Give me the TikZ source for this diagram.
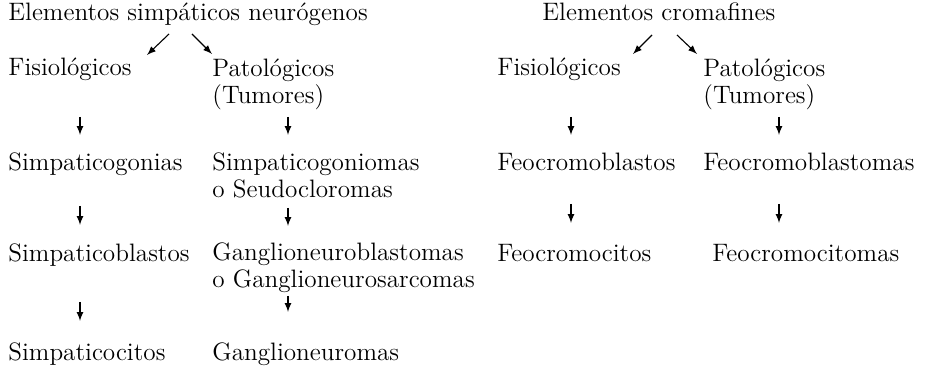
\documentclass[tikz,border=0pt]{standalone}
\usepackage{fontspec}
\usepackage{tikz}
\usetikzlibrary{calc}
\tikzset{>=latex, % Use LaTeX arrow tips
  arr/.style={->, line width=0.55pt},
  entry/.style={anchor=base west, inner sep=0pt, align=left},
  scheme/.style={
    x=0.5pt,
    y=-0.5pt,
    font={\fontsize{12.6}{13.5}\selectfont},
  },
}

\begin{document}
\begin{tikzpicture}[scheme]

    \useasboundingbox (0,0) rectangle (928,369);

    % neurogenic side (two-line entries sit on their last line)
    \node [entry] at (8,21) (neuro) {Elementos simpáticos neurógenos};
    \node [entry] at (8,76) (fisio neuro) {Fisiológicos};
    \node [entry] at (212,104) (pato neuro) {Patológicos\\(Tumores)};
    \node [entry] at (8,171) (gonias) {Simpaticogonias};
    \node [entry] at (212,198) (goniomas) {Simpaticogoniomas\\o Seudocloromas};
    \node [entry] at (8,262) (blastos) {Simpaticoblastos};
    \node [entry] at (212,288) (gangblastomas)
    {Ganglioneuroblastomas\\o Ganglioneurosarcomas};
    \node [entry] at (8,360) (citos) {Simpaticocitos};
    \node [entry] at (212,360) (gangliomas) {Ganglioneuromas};

    \draw [arr] (neuro.base west) ++(161,13) -- ++(-22,21);
    \draw [arr] (neuro.base west) ++(184,13) -- ++(20,20);
    \draw [arr] (fisio neuro.base west) ++(72,41) -- ++(0,18);
    \draw [arr] (gonias.base west) ++(72,35) -- ++(0,19);
    \draw [arr] (blastos.base west) ++(72,40) -- ++(0,19);
    \draw [arr] (pato neuro.base west) ++(76,13) -- ++(0,18);
    \draw [arr] (goniomas.base west) ++(76,10) -- ++(0,18);
    \draw [arr] (gangblastomas.base west) ++(76,8) -- ++(0,16);

    % chromaffin side
    \node [entry] at (542,21) (croma) {Elementos cromafines};
    \node [entry] at (497,76) (fisio croma) {Fisiológicos};
    \node [entry] at (703,104) (pato croma) {Patológicos\\(Tumores)};
    \node [entry] at (497,171) (feoblastos) {Feocromoblastos};
    \node [entry] at (703,171) (feoblastomas) {Feocromoblastomas};
    \node [entry] at (497,262) (feocitos) {Feocromocitos};
    \node [entry] at (712,262) (feocitomas) {Feocromocitomas};

    \draw [arr] (croma.base west) ++(110,14) -- ++(-19,19);
    \draw [arr] (croma.base west) ++(135,14) -- ++(20,19);
    \draw [arr] (fisio croma.base west) ++(74,41) -- ++(0,18);
    \draw [arr] (feoblastos.base west) ++(74,33) -- ++(0,19);
    \draw [arr] (pato croma.base west) ++(76,13) -- ++(0,18);
    \draw [arr] (feoblastomas.base west) ++(76,33) -- ++(0,19);

\end{tikzpicture}
\end{document}
